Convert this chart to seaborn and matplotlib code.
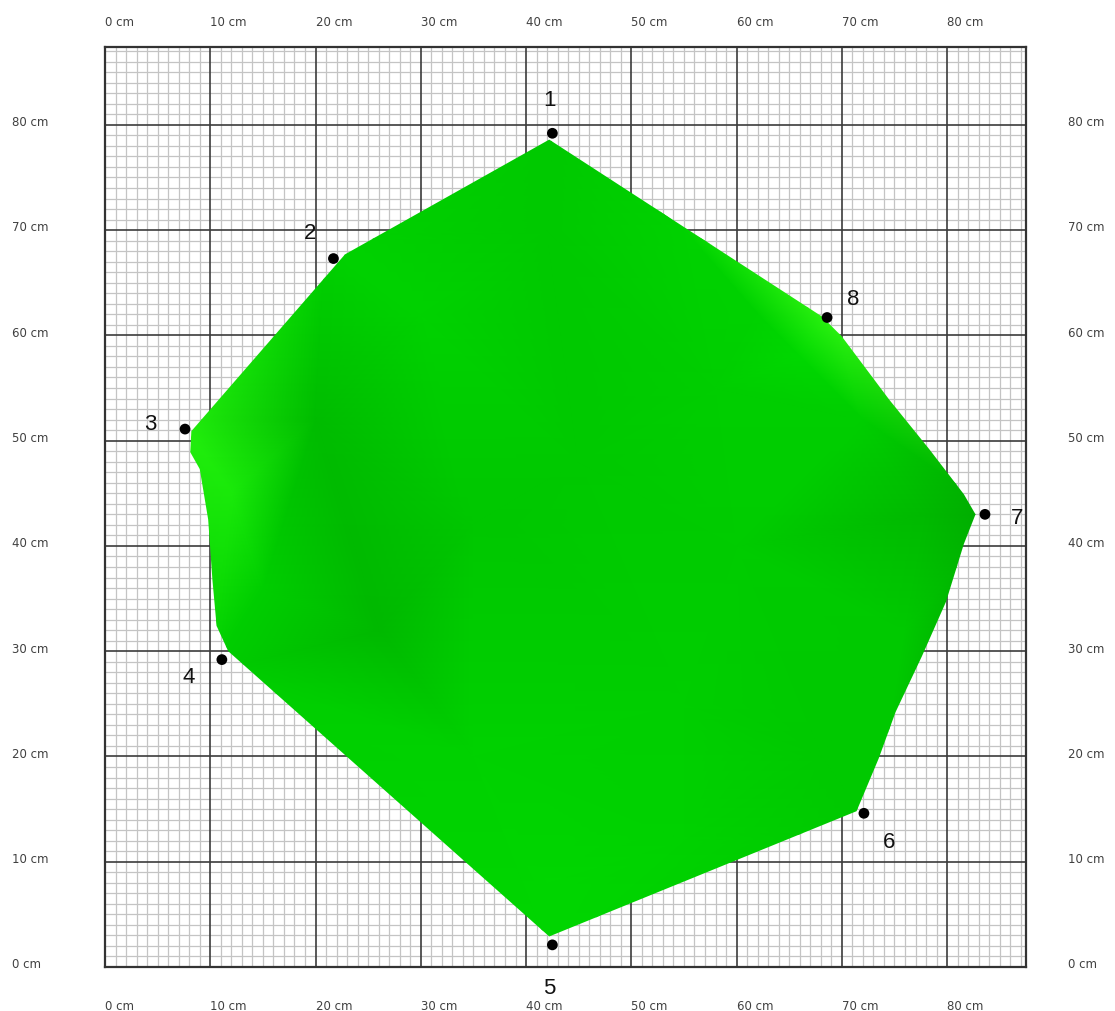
import numpy as np
import seaborn as sns
import matplotlib.pyplot as plt
import matplotlib.tri as mtri
from matplotlib.patches import Polygon
from matplotlib.transforms import blended_transform_factory

# measured points (cm)
point_labels = ['1', '2', '3', '4', '5', '6', '7', '8']
point_x = [42.5, 21.7, 7.6, 11.1, 42.5, 72.1, 83.6, 68.6]
point_y = [79.2, 67.3, 51.1, 29.2, 2.1, 14.6, 43.0, 61.7]

# outline of the coloured area (cm)
outline_x = [42.2, 22.8, 8.2, 8.1, 9.0, 9.8, 10.2, 10.6, 11.7, 42.2, 71.4, 73.5,
             75.1, 77.6, 79.9, 81.6, 82.7, 81.6, 78.3, 74.5, 70.0, 68.1]
outline_y = [78.6, 67.7, 50.9, 48.9, 47.3, 42.5, 36.8, 32.4, 30.0, 2.9, 14.8, 19.8,
             24.2, 29.5, 34.7, 40.2, 43.0, 44.9, 49.2, 53.9, 59.9, 61.8]

# shading samples (0 = dark green, 1 = light green)
sample_x = [42.5, 21.0, 7.0, 10.0, 42.5, 73.0, 85.0, 69.0,
            42.0, 30.0, 20.0, 12.0, 15.0, 26.0, 35.0, 42.0, 55.0, 68.0,
            76.0, 78.0, 72.0, 62.0, 55.0, 45.0, 60.0, 35.0, 55.0, 66.0, 58.0]
sample_y = [80.0, 69.0, 52.0, 28.0, 1.0, 13.0, 43.0, 63.0,
            70.0, 62.0, 52.0, 45.0, 36.0, 32.0, 20.0, 8.0, 12.0, 20.0,
            32.0, 43.0, 52.0, 62.0, 70.0, 48.0, 40.0, 42.0, 25.0, 58.0, 55.0]
sample_v = [0.45, 0.55, 0.85, 0.5, 0.6, 0.45, 0.2, 0.95,
            0.45, 0.55, 0.32, 0.8, 0.5, 0.3, 0.55, 0.6, 0.55, 0.45,
            0.45, 0.3, 0.5, 0.55, 0.55, 0.45, 0.48, 0.42, 0.5, 0.62, 0.5]

ticks = [0, 10, 20, 30, 40, 50, 60, 70, 80]
tick_labels = [f'{t} cm' for t in ticks]
minor_ticks = [v for v in range(88) if v % 10]

sns.set_style('white')
plt.rcParams['font.family'] = ['DejaVu Sans']

fig = plt.figure(figsize=(11.15, 10.12), dpi=100)
ax = fig.add_axes([0.0942, 0.0435, 0.826, 0.9091])
ax.set_xlim(0, 87.5)
ax.set_ylim(0, 87.4)

# graph paper grid
ax.set_xticks([])
ax.set_yticks([])
ax.vlines(minor_ticks, 0, 87.4, color='#c4c4c4', lw=0.9, zorder=0.5)
ax.hlines(minor_ticks, 0, 87.5, color='#c4c4c4', lw=0.9, zorder=0.5)
ax.vlines(ticks, 0, 87.4, color='#3c3c3c', lw=1.2, zorder=0.6)
ax.hlines(ticks, 0, 87.5, color='#3c3c3c', lw=1.2, zorder=0.6)
for s in ax.spines.values():
    s.set_color('#333333')
    s.set_linewidth(1.6)

# shaded area clipped to the outline
cmap = sns.blend_palette(['#008800', '#00bf00', '#00dc00', '#40ff18'], as_cmap=True)
tri = mtri.Triangulation(sample_x, sample_y)
tpc = ax.tripcolor(tri, sample_v, cmap=cmap, shading='gouraud', vmin=0, vmax=1, zorder=1)
clip = Polygon(np.column_stack([outline_x, outline_y]), closed=True, transform=ax.transData)
tpc.set_clip_path(clip)

# points and labels
sns.scatterplot(x=point_x, y=point_y, color='black', s=60, edgecolor='none', ax=ax, zorder=3)
offsets = [(-2, 24), (-17, 19), (-25, 4), (-24, -12), (-2, -31), (18, -20), (23, -2), (19, 14)]
for lab, x, y, off in zip(point_labels, point_x, point_y, offsets):
    ax.annotate(lab, (x, y), xytext=off, textcoords='offset points', ha='center', va='center',
                fontsize=16, family='Liberation Sans', color='#111111', annotation_clip=False)

# axis labels on all four sides
tx = blended_transform_factory(ax.transData, ax.transAxes)
ty = blended_transform_factory(ax.transAxes, ax.transData)
for t, lab in zip(ticks, tick_labels):
    ax.text(t, 1.028, lab, transform=tx, ha='left', va='center', fontsize=8.5, color='#404040')
    ax.text(t, -0.0415, lab, transform=tx, ha='left', va='center', fontsize=8.5, color='#404040')
    ax.text(-0.101, t + 0.3, lab, transform=ty, ha='left', va='center', fontsize=8.5, color='#404040')
    ax.text(1.0456, t + 0.3, lab, transform=ty, ha='left', va='center', fontsize=8.5, color='#404040')

ax.set_xlabel('')
ax.set_ylabel('')
fig.savefig('out.png', dpi=100)
